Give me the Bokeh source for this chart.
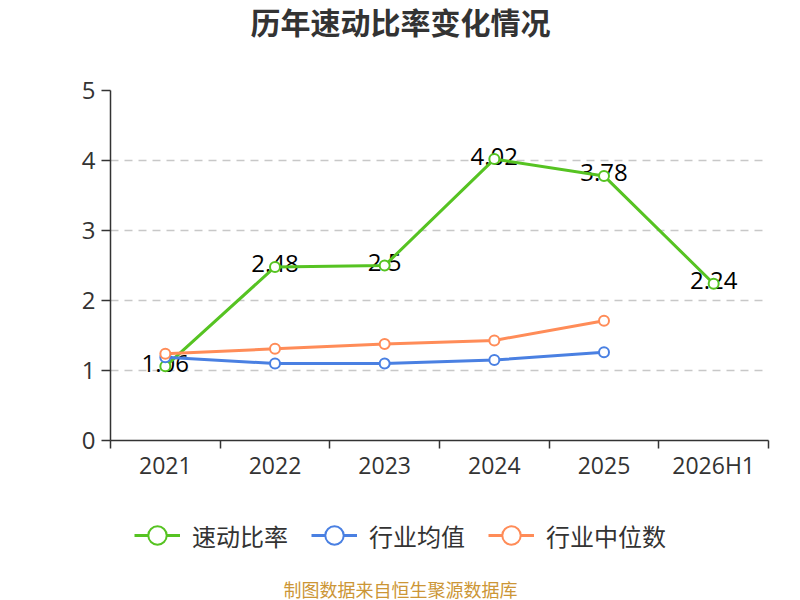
from bokeh.plotting import figure
from bokeh.models import Range1d, FixedTicker, Legend, LegendItem, Label
from bokeh.layouts import column
from bokeh.embed import file_html
from bokeh.resources import INLINE
from bokeh.core.properties import value

categories = ["2021", "2022", "2023", "2024", "2025", "2026H1"]
quick_ratio = [1.06, 2.48, 2.5, 4.02, 3.78, 2.24]
industry_mean = [1.19, 1.10, 1.10, 1.15, 1.26]
industry_median = [1.24, 1.31, 1.38, 1.43, 1.71]
y_ticks = [0, 1, 2, 3, 4, 5]
series_names = ["速动比率", "行业均值", "行业中位数"]
title_text = "历年速动比率变化情况"
source_text = "制图数据来自恒生聚源数据库"

GREEN = "#56c322"
BLUE = "#4a80e2"
ORANGE = "#ff8c58"
TEXT = "#333333"
COLORS = [GREEN, BLUE, ORANGE]

W = 784
TOP_H = 45
MAIN_H = 445
BOT_H = 110
LEFT = 110  # frame left edge (column aligns frames of all strips)

centers = [i + 0.5 for i in range(len(categories))]
bounds = list(range(len(categories) + 1))
NAN = float("nan")

# ---- title strip ----
p0 = figure(width=W, height=TOP_H, output_backend="svg", toolbar_location=None,
            x_range=Range1d(0, W), y_range=Range1d(0, TOP_H),
            x_axis_type=None, y_axis_type=None, min_border=0)
p0.outline_line_color = None
p0.add_layout(Label(x=400 - LEFT, y=TOP_H - 20, x_units="screen", y_units="screen", text=title_text,
                    text_align="center", text_baseline="middle", text_font="Noto Sans CJK SC",
                    text_font_size="30px", text_font_style="bold", text_color=TEXT))

# ---- main chart ----
p = figure(width=W, height=MAIN_H, output_backend="svg", toolbar_location=None,
           x_range=Range1d(0, len(categories)), y_range=Range1d(y_ticks[0], y_ticks[-1]),
           min_border_left=LEFT, min_border_right=16, min_border_top=45, min_border_bottom=50)
p.outline_line_color = None
p.background_fill_color = "white"
p.border_fill_color = "white"

xa = p.xaxis[0]
xa.ticker = FixedTicker(ticks=centers, minor_ticks=bounds)
xa.major_label_overrides = {c: cat for c, cat in zip(centers, categories)}
xa.major_tick_line_color = None
xa.major_tick_out = 8
xa.major_tick_in = 0
xa.minor_tick_out = 8
xa.minor_tick_in = 0
xa.minor_tick_line_color = TEXT
xa.minor_tick_line_width = 1.5
xa.axis_line_color = TEXT
xa.axis_line_width = 1.5
xa.major_label_text_font = "Open Sans"
xa.major_label_text_font_size = "23px"
xa.major_label_text_color = TEXT
xa.major_label_standoff = 0

ya = p.yaxis[0]
ya.ticker = FixedTicker(ticks=y_ticks)
ya.major_tick_out = 9
ya.major_tick_in = 0
ya.major_tick_line_color = TEXT
ya.major_tick_line_width = 1.5
ya.minor_tick_line_color = None
ya.axis_line_color = TEXT
ya.axis_line_width = 1.5
ya.major_label_text_font = "Open Sans"
ya.major_label_text_font_size = "24px"
ya.major_label_text_color = TEXT
ya.major_label_standoff = 6

p.xgrid.visible = False
p.ygrid.grid_line_color = "#c8c8c8"
p.ygrid.grid_line_width = 1.5
p.ygrid.grid_line_dash = "8 6"

labels = [f"{v:g}" for v in quick_ratio]
p.text(x=centers, y=quick_ratio, text=labels, text_align="center", text_baseline="middle",
       y_offset=-3, text_font=value("Open Sans"), text_font_size="24px", text_color="black")

for vals, col in zip([quick_ratio, industry_mean, industry_median], COLORS):
    xs = centers[:len(vals)]
    p.line(xs, vals, line_color=col, line_width=3)
    p.scatter(xs, vals, size=10, fill_color="white", line_color=col, line_width=2)

# ---- legend + source strip ----
p2 = figure(width=W, height=BOT_H, output_backend="svg", toolbar_location=None,
            x_range=Range1d(0, W), y_range=Range1d(0, BOT_H),
            x_axis_type=None, y_axis_type=None, min_border=0)
p2.outline_line_color = None
items = []
for name, col in zip(series_names, COLORS):
    # legend-only glyphs (NaN point: nothing drawn in the strip itself)
    rl = p2.line(x=[NAN], y=[NAN], line_color=col, line_width=3)
    rs = p2.scatter(x=[NAN], y=[NAN], size=10, fill_color="white", line_color=col, line_width=2)
    items.append(LegendItem(label=name, renderers=[rl, rs]))
legend = Legend(items=items, orientation="horizontal", location=(134 - LEFT, 42),
                glyph_width=46, glyph_height=46, label_standoff=12, spacing=23,
                label_text_font="Noto Sans CJK SC", label_text_font_size="24px",
                label_text_color=TEXT, border_line_color=None, background_fill_alpha=0,
                padding=0, margin=0)
p2.add_layout(legend, "center")
p2.add_layout(Label(x=400 - LEFT, y=12, x_units="screen", y_units="screen", text=source_text,
                    text_align="center", text_baseline="middle", text_font="Noto Sans CJK SC",
                    text_font_size="18px", text_color="#cc9636"))

layout = column(p0, p, p2, spacing=0)
open("out.html", "w").write(file_html(layout, INLINE))
